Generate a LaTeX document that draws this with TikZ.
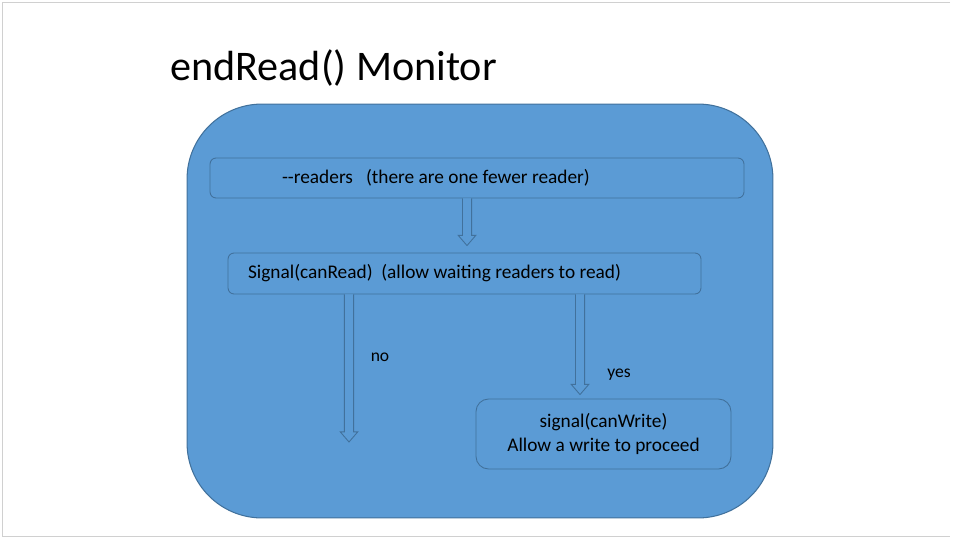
\documentclass[tikz,border=0pt]{standalone}
\usepackage{fontspec}
\setmainfont{Carlito}
\usetikzlibrary{calc}
\definecolor{slideblue}{HTML}{5B9BD5}
\definecolor{edgeblue}{HTML}{41719C}
\definecolor{framegray}{HTML}{D0D0D0}

\begin{document}
\begin{tikzpicture}[x=0.02cm,y=-0.02cm,
  monitor/.style={draw=edgeblue,fill=slideblue,line width=0.6pt,rounded corners=1.5cm,minimum width=11.72cm,minimum height=8.28cm},
  stepbox/.style={draw=edgeblue,fill=slideblue,line width=0.5pt,rounded corners=0.12cm,inner ysep=0pt,font=\fontsize{11}{13.2}\selectfont},
  lbl/.style={font=\fontsize{10}{12}\selectfont},
  hollow/.style={draw=edgeblue,fill=slideblue,line width=0.5pt,
    to path={let \p1=(\tikztostart), \p2=(\tikztotarget) in
      (\x1-2.6pt,\y1) -- (\x1-2.6pt,\y2+5.8pt) -- (\x1-5pt,\y2+5.8pt) -- (\x1,\y2)
      -- (\x1+5pt,\y2+5.8pt) -- (\x1+2.6pt,\y2+5.8pt) -- (\x1+2.6pt,\y1)}}]
\useasboundingbox (0,0) rectangle (962,537);
\draw[framegray] (950,2) -- (2,2) -- (2,536) -- (950,536);

\node[anchor=base west,font=\fontsize{24}{29}\selectfont] (title) at (164,80) {endRead() Monitor};
\node[monitor] (mon) at (480,311) {};

\node[stepbox,minimum height=0.8cm,text width=7.8cm,inner xsep=1.44cm,align=flush left] (dec) at (477,178)
  {-{}-readers\ \ \ (there are one fewer reader)};
\node[stepbox,minimum height=0.82cm,text width=8.66cm,inner xsep=0.4cm,align=flush left] (sig) at (464.5,273.5)
  {Signal(canRead)\ \ (allow waiting readers to read)};
\node[stepbox,minimum width=5.1cm,minimum height=1.4cm,rounded corners=0.25cm,align=center] (wr) at (603.5,434)
  {signal(canWrite)\\Allow a write to proceed};

% arrow ends
\path (dec.south) ++(-10,0) coordinate (decout);
\path (sig.north) ++(2.5,-7) coordinate (sigin);
\path (sig.south) ++(-115.5,0) coordinate (noout);
\path (sig.south) ++(115.5,0) coordinate (yesout);
\path (wr.north) ++(-23.5,-4) coordinate (wrin);
\coordinate (noend) at (349,442);

\draw[hollow] (decout) to (sigin);
\draw[hollow] (noout) to (noend);
\draw[hollow] (yesout) to (wrin);

\node[lbl] (nolbl) at (380,357) {no};
\node[lbl] (yeslbl) at (619,375) {yes};
\end{tikzpicture}
\end{document}
